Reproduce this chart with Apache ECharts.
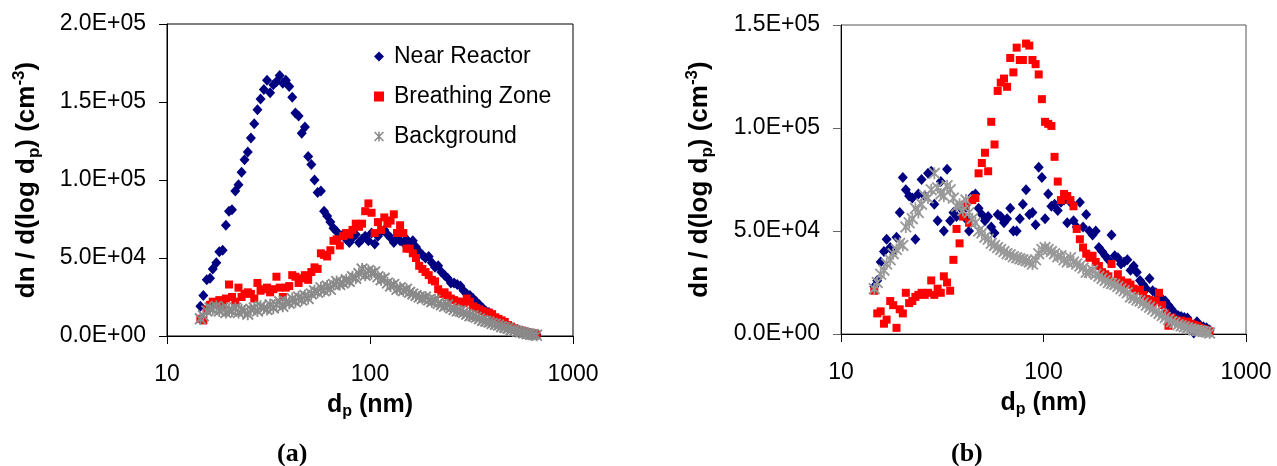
<!DOCTYPE html>
<html>
<head>
<meta charset="utf-8">
<script src="https://cdn.jsdelivr.net/npm/echarts@6/dist/echarts.min.js"></script>
<style>
html,body{margin:0;padding:0;background:#fff;}
#c{width:1277px;height:466px;}
</style>
</head>
<body>
<div id="c"></div>
<script>
// particle diameter channels (nm)
var diameters = [14.6,15.1,15.7,16.3,16.8,17.5,18.1,18.8,19.5,20.2,20.9,21.7,22.5,23.3,24.1,25.0,25.9,26.9,27.9,28.9,30.0,31.1,32.2,33.4,34.6,35.9,37.2,38.5,40.0,41.4,42.9,44.5,46.1,47.8,49.6,51.4,53.3,55.2,57.3,59.4,61.5,63.8,66.1,68.5,71.0,73.7,76.4,79.1,82.0,85.1,88.2,91.4,94.7,98.2,101.8,105.5,109.4,113.4,117.6,121.9,126.3,131.0,135.8,140.7,145.9,151.2,156.8,162.5,168.5,174.7,181.1,187.7,194.6,201.7,209.1,216.7,224.7,232.9,241.4,250.3,259.5,269.0,278.8,289.0,299.6,310.6,322.0,333.8,346.0,358.7,371.8,385.4,399.5,414.2,429.4,445.1,461.4,478.3,495.8,514.0,532.8,552.3,572.5,593.5,615.3,637.8,661.2];

// panel (a)
var nearReactorA = [19000,26000,36000,37000,43000,47000,54000,55000,71000,80000,81000,93000,97000,105000,113000,118000,127000,136000,145000,152000,158000,164000,156000,161000,163000,167000,162000,164000,160000,153000,143000,141000,130000,134000,115000,110000,100000,92000,93000,80000,77000,73000,69000,67000,64000,65000,62000,60000,63000,65000,60000,62000,64000,61000,66000,59000,64000,67000,68000,65000,63000,60000,64000,61000,60000,62000,58000,61000,57000,54000,52000,50000,51000,47000,44000,45000,41000,39000,37000,34000,34000,33000,32000,29000,27000,26000,24000,22000,20000,18000,16000,15000,13000,11000,10000,8500,7000,6000,5000,4000,3500,3000,2500,2000,1500,1200,800];
var breathingZoneA = [11000,10000,17000,20000,22000,21000,23000,20000,24000,33000,25000,22000,31000,25000,27000,28000,27000,24000,34000,29000,30000,31000,28000,30000,38000,31000,25000,31000,32000,39000,38000,34000,37000,39000,36000,41000,44000,43000,53000,52000,51000,55000,61000,62000,58000,64000,66000,65000,68000,72000,70000,72000,80000,85000,79000,66000,73000,68000,76000,72000,74000,78000,66000,71000,66000,56000,56000,53000,50000,45000,43000,41000,39000,36000,35000,30000,27000,28000,26000,24000,23000,22000,22000,21000,24000,22000,19000,18000,17000,16000,15000,15000,14000,12000,11000,10000,9000,7000,6000,5000,4000,3500,3000,2500,2000,1500,1000];
var backgroundA = [11000,13000,16000,18000,17000,19000,16000,18000,15000,17000,16000,18000,15000,17000,16000,14000,17000,18000,16000,19000,18000,17000,20000,18000,20000,22000,19000,22000,21000,24000,22000,25000,23000,26000,24000,27000,29000,28000,31000,29000,32000,30000,33000,35000,33000,34000,36000,35000,38000,37000,40000,43000,39000,42000,40000,41000,38000,36000,37000,34000,32000,33000,30000,31000,29000,30000,28000,27000,26000,25000,24000,25000,23000,22000,23000,21000,20000,19000,20000,18000,17000,16000,16000,15000,14000,13000,13000,12000,11000,10000,9500,9000,8000,7500,7000,6000,5500,5000,4000,3500,3000,2500,2000,1500,1200,1000,500];

// panel (b)
var nearReactorB = [23000,26000,35000,40000,46000,42000,40000,47000,59000,76000,70000,67000,66000,46000,68000,75000,67000,78000,79000,63000,55000,74000,50000,80000,55000,59000,57000,62000,60000,56000,50000,67000,68000,61000,58000,55000,57000,52000,49000,58000,57000,54000,56000,61000,50000,50000,56000,63000,70000,58000,59000,53000,81000,76000,56000,68000,62000,63000,60000,64000,65000,54000,64000,55000,52000,64000,52000,58000,50000,48000,50000,42000,40000,38000,36000,48000,38000,37000,34000,35000,36000,31000,33000,30000,26000,24000,22000,27000,21000,20000,18000,17000,16000,14000,12000,10000,9000,8500,8000,7800,5000,500,6000,4000,3500,3000,2000];
var breathingZoneB = [21000,10000,11000,5000,7000,16000,14000,3000,12000,10000,20000,15000,16000,18000,19000,20000,19000,20000,26000,19000,22000,20000,28000,25000,21000,36000,51000,44000,57000,62000,54000,65000,66000,78000,83000,88000,79000,103000,92000,118000,122000,124000,120000,134000,127000,139000,133000,133000,141000,140000,133000,131000,126000,114000,103000,102000,101000,86000,74000,65000,68000,67000,65000,62000,51000,46000,42000,39000,37000,38000,35000,33000,30000,29000,28000,34000,25000,29000,26000,24000,25000,24000,22000,21000,21500,19000,17000,16500,15000,16000,20000,14000,10000,4000,8000,7000,6000,6500,5500,6000,5000,4500,4000,3000,2500,2000,1300];
var backgroundB = [22000,25000,29000,31000,34000,36000,39000,41000,44000,43000,52000,54000,56000,61000,59000,63000,67000,66000,70000,78000,71000,68000,67000,72000,70000,66000,62000,63000,60000,65000,59000,56000,54000,50000,49000,47000,46000,44000,43000,42000,41000,40000,39000,38500,37500,37000,36500,36000,35500,35000,34000,36000,39000,41000,42000,41000,40000,39000,37500,38000,36000,35000,37000,35000,34000,33000,32000,30000,30000,31000,29000,28000,27000,26000,25000,24500,24000,23000,22000,21000,20000,18000,17500,16500,16000,15000,14000,13000,12000,11000,10000,9000,8000,7000,6000,5500,4500,4000,3500,3000,2500,2000,1800,1500,1200,1000,500];

var seriesNames = ['Near Reactor','Breathing Zone','Background'];
var xTickLabels = ['10','100','1000'];
var yTickLabelsA = ['0.0E+00','5.0E+04','1.0E+05','1.5E+05','2.0E+05'];
var yTickLabelsB = ['0.0E+00','5.0E+04','1.0E+05','1.5E+05'];
var captions = ['(a)','(b)'];

function pairs(ys){ var out=[]; for(var i=0;i<diameters.length;i++){ out.push([diameters[i], ys[i]]); } return out; }

var asterisk = 'path://M8.5 0L11.5 0L11.5 20L8.5 20Z M0 2.2L2.2 0L20 17.8L17.8 20Z M17.8 0L20 2.2L2.2 20L0 17.8Z';

var fontSans = 'Liberation Sans, Arial, sans-serif';
var titleRich = {
  b:{fontFamily:fontSans,fontSize:26,fontWeight:'bold',color:'#000',lineHeight:32},
  sub:{fontFamily:fontSans,fontSize:17,fontWeight:'bold',color:'#000',lineHeight:32,verticalAlign:'bottom'},
  sup:{fontFamily:fontSans,fontSize:17,fontWeight:'bold',color:'#000',lineHeight:32,verticalAlign:'top'}
};
var xRich = {
  b:{fontFamily:fontSans,fontSize:25,fontWeight:'bold',color:'#000',lineHeight:30},
  sub:{fontFamily:fontSans,fontSize:16,fontWeight:'bold',color:'#000',lineHeight:30,verticalAlign:'bottom'}
};

function xAxisDef(idx){
  return {
    type:'log', logBase:10, min:10, max:1000, gridIndex:idx,
    axisLine:{show:true,lineStyle:{color:'#000',width:1}},
    axisTick:{show:true,inside:false,length:8,lineStyle:{color:'#000'}},
    minorTick:{show:false}, splitLine:{show:false},
    axisLabel:{fontFamily:fontSans,fontSize:23,color:'#000',margin:27,
      formatter:function(v){ return xTickLabels[Math.round(Math.log10(v))-1]; }},
    name:'{b|d}{sub|p}{b| (nm)}', nameLocation:'middle', nameGap:54,
    nameTextStyle:{rich:xRich}
  };
}
function yAxisDef(idx, max, labels, gap){
  return {
    type:'value', min:0, max:max, interval:50000, gridIndex:idx,
    axisLine:{show:true,onZero:false,lineStyle:{color:'#000',width:1}},
    axisTick:{show:true,inside:false,length:8,lineStyle:{color: idx===0?'#000':'#666'}},
    splitLine:{show:false},
    axisLabel:{fontFamily:fontSans,fontSize:23,color:'#000',margin:21,
      formatter:function(v){ return labels[Math.round(v/50000)]; }},
    name:'{b|dn / d(log d}{sub|p}{b|) (cm}{sup|-3}{b|)}', nameLocation:'middle', nameGap:gap,
    nameTextStyle:{rich:titleRich}
  };
}

var navy = '#000080', red = '#ff0000';
function mk(name, data, xi, color, symbol, size){
  return {type:'scatter', name:name, xAxisIndex:xi, yAxisIndex:xi, data:pairs(data),
    symbol:symbol, symbolSize:size, itemStyle:{color:color, opacity:1}, emphasis:{disabled:true}, silent:true};
}

var chart = echarts.init(document.getElementById('c'), null, {renderer:'canvas'});
chart.setOption({
  animation:false,
  backgroundColor:'#fff',
  grid:[
    {left:167, top:24, width:406, height:312, show:true, borderColor:'#000', borderWidth:1, backgroundColor:'transparent'},
    {left:841, top:25, width:405, height:309, show:true, borderColor:'#555', borderWidth:1, backgroundColor:'transparent'}
  ],
  xAxis:[xAxisDef(0), xAxisDef(1)],
  yAxis:[yAxisDef(0,200000,yTickLabelsA,124), yAxisDef(1,150000,yTickLabelsB,125)],
  legend:{
    orient:'vertical', left:374, top:45, padding:0, itemGap:17,
    itemWidth:10, itemHeight:10,
    textStyle:{fontFamily:fontSans,fontSize:23,color:'#000',padding:[0,0,0,5]},
    data:seriesNames
  },
  series:[
    mk(seriesNames[0], nearReactorA, 0, navy, 'diamond', [10,11]),
    mk(seriesNames[1], breathingZoneA, 0, red, 'rect', 8),
    mk(seriesNames[2], backgroundA, 0, '#8a8a8a', asterisk, 12),
    mk(seriesNames[0], nearReactorB, 1, navy, 'diamond', [10,11]),
    mk(seriesNames[1], breathingZoneB, 1, red, 'rect', 8),
    mk(seriesNames[2], backgroundB, 1, '#999999', asterisk, 12)
  ],
  graphic:[
    {type:'text', left:277, top:441, style:{text:captions[0], font:'bold 26px "Liberation Serif", "Times New Roman", serif', fill:'#000'}},
    {type:'text', left:951, top:441, style:{text:captions[1], font:'bold 26px "Liberation Serif", "Times New Roman", serif', fill:'#000'}}
  ]
});
</script>
</body>
</html>
